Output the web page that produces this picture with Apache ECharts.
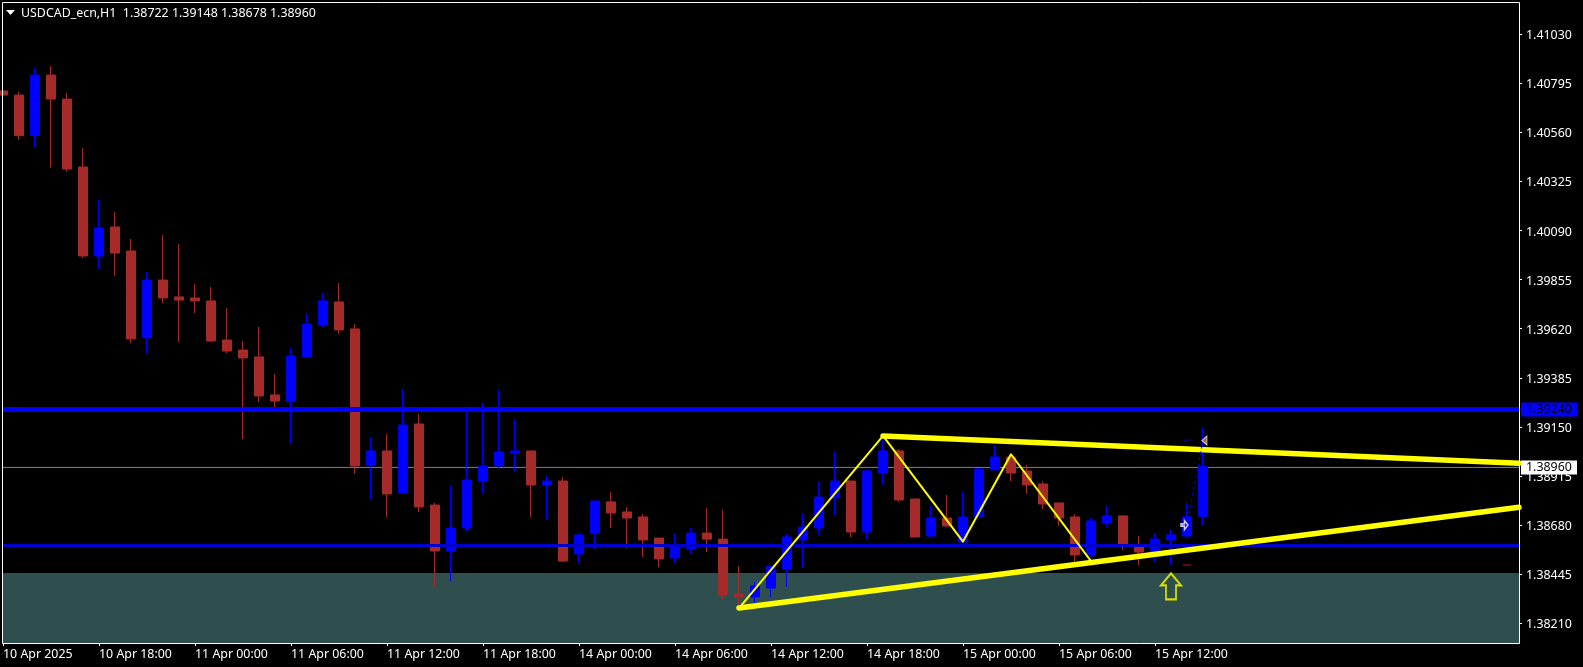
<!DOCTYPE html>
<html>
<head>
<meta charset="utf-8">
<style>html,body{margin:0;padding:0;background:#000;width:1583px;height:667px;overflow:hidden}#c{width:1583px;height:667px}</style>
<script src="https://cdn.jsdelivr.net/npm/echarts@6/dist/echarts.min.js"></script>
</head>
<body>
<div id="c"></div>
<script>
const headerText = 'USDCAD_ecn,H1  1.38722 1.39148 1.38678 1.38960';
const opens = [1.40758,1.40738,1.40544,1.40834,1.40719,1.40394,1.39968,1.40107,1.39992,1.39577,1.39853,1.39772,1.39767,1.39753,1.39566,1.39518,1.39485,1.39303,1.39274,1.39485,1.39638,1.39748,1.39619,1.38968,1.39035,1.38834,1.39164,1.38776,1.38556,1.38666,1.38891,1.38963,1.39025,1.39035,1.38872,1.38891,1.38542,1.38642,1.38791,1.38743,1.38719,1.38618,1.38523,1.38566,1.38642,1.38613,1.38350,1.38336,1.38379,1.38470,1.38609,1.38666,1.38810,1.38891,1.38647,1.38929,1.39035,1.38805,1.38628,1.38714,1.38599,1.38719,1.38944,1.39006,1.38939,1.38877,1.38786,1.38719,1.38537,1.38690,1.38724,1.38575,1.38551,1.38609,1.38628,1.38722];
const closes = [1.40738,1.40544,1.40834,1.40719,1.40384,1.39968,1.40102,1.39982,1.39571,1.39853,1.39767,1.39757,1.39753,1.39561,1.39513,1.39480,1.39298,1.39274,1.39489,1.39642,1.39753,1.39614,1.38963,1.39035,1.38829,1.39159,1.38767,1.38556,1.38666,1.38896,1.38963,1.39030,1.39035,1.38872,1.38891,1.38508,1.38633,1.38795,1.38738,1.38714,1.38609,1.38518,1.38575,1.38642,1.38613,1.38345,1.38336,1.38389,1.38484,1.38623,1.38671,1.38814,1.38891,1.38647,1.38939,1.39035,1.38800,1.38623,1.38714,1.38676,1.38719,1.38949,1.39006,1.38929,1.38872,1.38781,1.38714,1.38537,1.38700,1.38724,1.38590,1.38551,1.38613,1.38633,1.38719,1.38960];
const lows = [1.40628,1.40523,1.40486,1.40391,1.40370,1.39958,1.39906,1.39872,1.39552,1.39504,1.39743,1.39556,1.39695,1.39556,1.39504,1.39092,1.39269,1.39245,1.39068,1.39480,1.39628,1.39595,1.38925,1.38800,1.38719,1.38829,1.38743,1.38384,1.38412,1.38652,1.38829,1.38953,1.38934,1.38719,1.38704,1.38503,1.38494,1.38566,1.38666,1.38570,1.38527,1.38479,1.38499,1.38542,1.38551,1.38326,1.38293,1.38307,1.38336,1.38384,1.38475,1.38633,1.38728,1.38623,1.38609,1.38872,1.38791,1.38623,1.38618,1.38671,1.38599,1.38719,1.38944,1.38891,1.38829,1.38757,1.38676,1.38499,1.38513,1.38671,1.38561,1.38489,1.38503,1.38489,1.38618,1.38678];
const highs = [1.40829,1.40753,1.40868,1.40877,1.40748,1.40485,1.40236,1.40179,1.40049,1.39891,1.40068,1.40025,1.39834,1.39820,1.39719,1.39561,1.39628,1.39403,1.39528,1.39695,1.39791,1.39839,1.39642,1.39102,1.39116,1.39331,1.39212,1.38786,1.38867,1.39240,1.39264,1.39327,1.39188,1.39035,1.38920,1.38910,1.38642,1.38795,1.38838,1.38767,1.38733,1.38618,1.38642,1.38666,1.38762,1.38752,1.38484,1.38408,1.38484,1.38637,1.38738,1.38891,1.39030,1.38891,1.38949,1.39102,1.39044,1.38805,1.38771,1.38824,1.38838,1.38953,1.39063,1.39016,1.38968,1.38891,1.38786,1.38733,1.38714,1.38776,1.38728,1.38628,1.38642,1.38661,1.38786,1.39148];

const priceTicks = [1.41030,1.40795,1.40560,1.40325,1.40090,1.39855,1.39620,1.39385,1.39150,1.38915,1.38680,1.38445,1.38210];
const timeTickBars = [0,6,12,18,24,30,36,42,48,54,60,66,72];
const timeTickLabels = ['10 Apr 2025','10 Apr 18:00','11 Apr 00:00','11 Apr 06:00','11 Apr 12:00','11 Apr 18:00','14 Apr 00:00','14 Apr 06:00','14 Apr 12:00','14 Apr 18:00','15 Apr 00:00','15 Apr 06:00','15 Apr 12:00'];

const resistanceLabel = '1.39240';
const lastPriceLabel = '1.38960';
const resistance = 1.39233;
const supportLine = 1.38582;
const lastPrice = 1.38956;
const zoneTop = 1.38451;

const priceMin = 1.381157, priceMax = 1.411836;
const barMax = 94.75;

const trendUpper = [[55,1.39107],[barMax,1.38976]];
const trendLower = [[46,1.38283],[barMax,1.38765]];
const zigzag = [[46,1.38283],[55,1.39107],[60,1.38601],[63,1.39019],[68,1.38508]];
const tradeLine = [[74,1.38680],[75,1.39085]];
const signalArrow = [[73,1.38387]];
const stopMark = [[74,1.38489]];
const targetMark = [[74,1.39087]];
const entryMark = [[73.84,1.38680]];
const exitMark = [[75.09,1.39085]];

const FONT = '"Noto Sans", sans-serif';
const FS = 12.4;
const candles = opens.map((o,i)=>[i,o,closes[i],lows[i],highs[i]]);

const chart = echarts.init(document.getElementById('c'), null, {renderer:'canvas'});
function line(name,data,width,z){
  return {name,type:'line',data,showSymbol:false,symbol:'none',silent:true,z,
    lineStyle:{color:'#ffff00',width,cap:'round',join:'round'}};
}
function mark(name,data,symbol,size,style,z,rotate){
  return {name,type:'scatter',data,symbol,symbolSize:size,symbolRotate:rotate||0,itemStyle:style,silent:true,z};
}
function priceLine(name,value,text,bg,fg,lineColor,lineWidth,z){
  return {name,type:'line',data:[[0,value],[barMax,value]],showSymbol:false,symbol:'none',silent:true,z,
    lineStyle:{color:lineColor,width:lineWidth,type:'solid'},
    endLabel:bg?{show:true,distance:2,formatter:()=>text,color:fg,backgroundColor:bg,
      fontFamily:FONT,fontSize:FS,width:46,height:14,lineHeight:14,padding:[0,5,0,5],align:'left'}:{show:false}};
}
chart.setOption({
  animation:false,
  backgroundColor:'#000',
  textStyle:{fontFamily:FONT},
  title:{text:headerText,left:21,top:5.5,padding:0,textStyle:{color:'#fff',fontSize:FS,fontWeight:'normal',fontFamily:FONT,lineHeight:16}},
  grid:{left:3,top:2,width:1516,height:641,show:false,containLabel:false},
  xAxis:{type:'value',min:0,max:barMax,splitLine:{show:false},axisLine:{show:false,onZero:false},
    axisTick:{show:true,length:3,customValues:timeTickBars,lineStyle:{color:'#fff',width:1}},
    axisLabel:{show:true,customValues:timeTickBars,color:'#fff',fontSize:FS,fontFamily:FONT,align:'left',margin:5.5,hideOverlap:false,
      formatter:v=>timeTickLabels[timeTickBars.indexOf(v)]||''}},
  yAxis:{type:'value',position:'right',min:priceMin,max:priceMax,scale:true,splitLine:{show:false},axisLine:{show:false,onZero:false},
    axisTick:{show:true,length:3,customValues:priceTicks,lineStyle:{color:'#fff',width:1}},
    axisLabel:{show:true,customValues:priceTicks,color:'#fff',fontSize:FS,fontFamily:FONT,margin:7,
      formatter:v=>'{p|'+v.toFixed(5)+'}',
      rich:{p:{color:'#fff',fontSize:FS,fontFamily:FONT,padding:[3,0,0,0]}}}},
  graphic:[
    {type:'rect',silent:true,z:100,shape:{x:2.5,y:2.5,width:1517,height:641},style:{fill:null,stroke:'#fff',lineWidth:1}},
    {type:'polygon',silent:true,z:100,shape:{points:[[6,10],[15,10],[10.5,15]]},style:{fill:'#fff'}}
  ],
  series:[
    {type:'line',data:[],silent:true,z:1,markArea:{silent:true,z:1,itemStyle:{color:'#2f4f4f',opacity:1},
      data:[[{yAxis:zoneTop},{yAxis:priceMin}]]}},
    priceLine('last',lastPrice,lastPriceLabel,'#fff','#000','#808080',1,2),
    {name:'USDCAD',type:'candlestick',data:candles,encode:{x:0,y:[1,2,3,4]},barWidth:10,z:3,silent:true,clip:true,
      itemStyle:{color:'#0000ff',color0:'#a52a2a',borderColor:'#0000ff',borderColor0:'#a52a2a',borderWidth:1}},
    priceLine('resistance',resistance,resistanceLabel,'#0000ff','#00001a','#0000ff',5,4),
    priceLine('support',supportLine,'',null,null,'#0000cd',3,4),
    line('upper',trendUpper,5.5,5),
    line('lower',trendLower,5.5,5),
    line('zigzag',zigzag,2,6),
    {name:'trade',type:'line',data:tradeLine,showSymbol:false,symbol:'none',silent:true,z:6,lineStyle:{color:'#0000ff',width:1,type:[3,3]}},
    mark('signal',signalArrow,'path://M10,0 L20,12 L15,12 L15,26 L5,26 L5,12 L0,12 Z',[20,26],{color:'transparent',borderColor:'#ffff00',borderWidth:2},7),
    mark('stop',stopMark,'rect',[8,1],{color:'#e02020'},7),
    mark('target',targetMark,'rect',[8,1],{color:'#0000ff'},7),
    mark('entry',entryMark,'path://M0,3 L4,3 L4,0 L8,4 L4,8 L4,5 L0,5 Z',[7,9],{color:'#0000ff',borderColor:'#fff',borderWidth:1.5},8),
    mark('exit',exitMark,'triangle',[9,5],{color:'#d58a1e',borderColor:'#fff',borderWidth:1},8,90)
  ]
});
</script>
</body>
</html>
